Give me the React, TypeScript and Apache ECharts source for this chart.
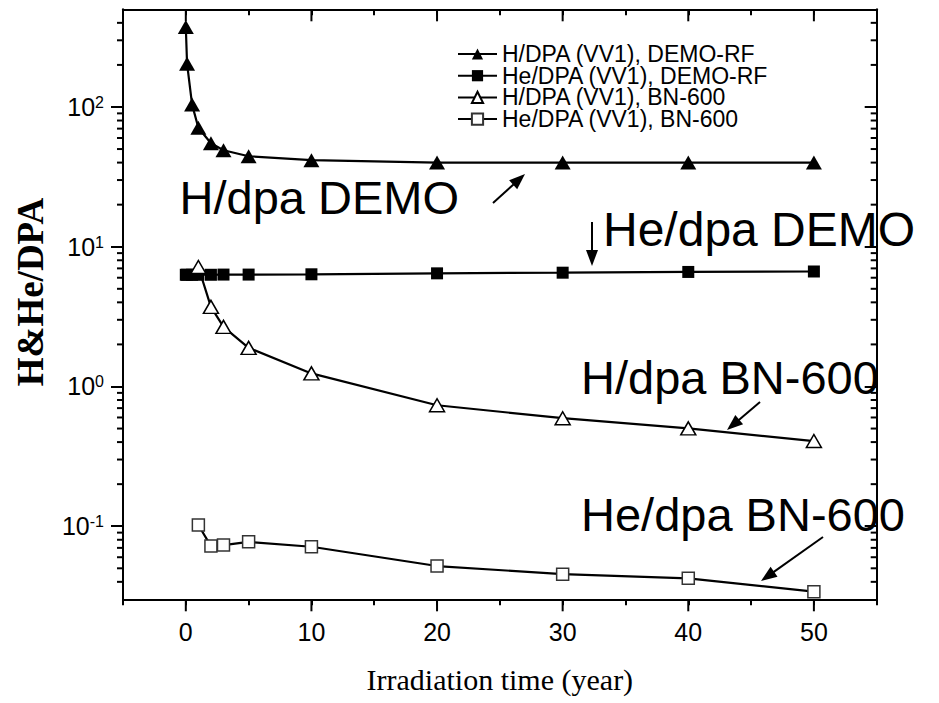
import { useEffect, useRef } from 'react';
import * as echarts from 'echarts';

// ---- data ----
const demoTimes = [0, 0.1, 0.5, 1, 2, 3, 5, 10, 20, 30, 40, 50];
const hDpaDemo = [373, 204, 104, 71, 55, 49, 44.4, 41.6, 40, 40, 40, 40];
const heDpaDemo = [6.3, 6.3, 6.3, 6.3, 6.3, 6.32, 6.32, 6.35, 6.45, 6.52, 6.6, 6.65];
const bnTimes = [1, 2, 3, 5, 10, 20, 30, 40, 50];
const hDpaBn = [7.16, 3.71, 2.67, 1.89, 1.24, 0.734, 0.593, 0.501, 0.407];
const heDpaBn = [0.102, 0.0721, 0.0733, 0.0773, 0.0713, 0.0519, 0.0454, 0.0424, 0.034];

const seriesNames = [
  'H/DPA (VV1), DEMO-RF',
  'He/DPA (VV1), DEMO-RF',
  'H/DPA (VV1), BN-600',
  'He/DPA (VV1), BN-600',
];

const X_MIN = -5;
const X_MAX = 55;
const Y_MIN = 0.03;
const Y_MAX = 500;

const xMajorTicks = [0, 10, 20, 30, 40, 50];
const yMajorTicks = [0.1, 1, 10, 100];
const yMinorTicks = [
  0.04, 0.05, 0.06, 0.07, 0.08, 0.09,
  0.2, 0.3, 0.4, 0.5, 0.6, 0.7, 0.8, 0.9,
  2, 3, 4, 5, 6, 7, 8, 9,
  20, 30, 40, 50, 60, 70, 80, 90,
  200, 300, 400,
];

const annotationTexts = ['H/dpa DEMO', 'He/dpa DEMO', 'H/dpa BN-600', 'He/dpa BN-600'];

const SANS = 'Arial, "Liberation Sans", sans-serif';
const SERIF = '"Times New Roman", "Liberation Serif", serif';

function arrow(x1: number, y1: number, x2: number, y2: number) {
  const dx = x2 - x1;
  const dy = y2 - y1;
  const len = Math.sqrt(dx * dx + dy * dy);
  const ux = dx / len;
  const uy = dy / len;
  const L = 16;
  const W = 6;
  const bx = x2 - ux * L;
  const by = y2 - uy * L;
  const px = -uy;
  const py = ux;
  return {
    type: 'group',
    children: [
      {
        type: 'line',
        shape: { x1, y1, x2: bx + ux * 2, y2: by + uy * 2 },
        style: { stroke: '#000', lineWidth: 2 },
      },
      {
        type: 'polygon',
        shape: {
          points: [
            [x2, y2],
            [bx + px * W, by + py * W],
            [bx - px * W, by - py * W],
          ],
        },
        style: { fill: '#000' },
      },
    ],
  };
}

function seg(x1: number, y1: number, x2: number, y2: number) {
  return { type: 'line', shape: { x1, y1, x2, y2 }, style: { stroke: '#000', lineWidth: 2 } };
}

export default function App() {
  const ref = useRef<HTMLDivElement>(null);

  useEffect(() => {
    if (!ref.current) return;
    const chart = echarts.init(ref.current, null, { renderer: 'svg' });
    const axisLineStyle = { color: '#000', width: 2 };
    // x axes: native ticks every 5 (min is a multiple of the interval), short like minor ticks
    const baseX = {
      type: 'value',
      min: X_MIN,
      max: X_MAX,
      interval: 5,
      splitLine: { show: false },
    };
    // y axes: native ticks at the decades
    const baseY = {
      type: 'log',
      logBase: 10,
      min: Y_MIN,
      max: Y_MAX,
      splitLine: { show: false },
    };

    const annoStyle = { fontSize: 47, fontFamily: SANS, fill: '#000', verticalAlign: 'middle', align: 'left' };

    const option: any = {
      animation: false,
      backgroundColor: '#fff',
      grid: { left: 123, right: 62.3, top: 9.3, bottom: 103.7, containLabel: false },
      legend: {
        orient: 'vertical',
        left: 452,
        top: 37.5,
        itemWidth: 39,
        itemHeight: 14,
        itemGap: -1.3,
        selectedMode: false,
        data: seriesNames,
        textStyle: { fontSize: 23, color: '#000', fontFamily: SANS },
      },
      xAxis: [
        {
          ...baseX,
          position: 'bottom',
          axisLine: { show: true, onZero: false, lineStyle: axisLineStyle },
          axisTick: { show: true, inside: false, length: 6, lineStyle: axisLineStyle },
          axisLabel: {
            margin: 20,
            fontSize: 25,
            color: '#000',
            fontFamily: SANS,
            formatter: (v: number) => (xMajorTicks.indexOf(v) >= 0 ? String(v) : ''),
          },
          name: 'Irradiation time (year)',
          nameLocation: 'middle',
          nameGap: 65,
          nameTextStyle: { fontFamily: SERIF, fontSize: 30, color: '#000' },
        },
        {
          ...baseX,
          position: 'top',
          axisLine: { show: true, onZero: false, lineStyle: axisLineStyle },
          axisTick: { show: true, inside: true, length: 6, lineStyle: axisLineStyle },
          axisLabel: { show: false },
        },
      ],
      yAxis: [
        {
          ...baseY,
          position: 'left',
          axisLine: { show: true, onZero: false, lineStyle: axisLineStyle },
          axisTick: { show: true, inside: false, length: 12, lineStyle: axisLineStyle },
          axisLabel: {
            margin: 19,
            color: '#000',
            showMinLabel: false,
            showMaxLabel: false,
            formatter: (v: number) => {
              const e = Math.round(Math.log10(v));
              if (Math.abs(Math.log10(v) - e) > 1e-6) return '';
              return `{b|10}{s|${e}}`;
            },
            rich: {
              b: { fontSize: 25, fontFamily: SANS, color: '#000' },
              s: { fontSize: 16, fontFamily: SANS, color: '#000', verticalAlign: 'top' },
            },
          },
        },
        {
          ...baseY,
          position: 'right',
          axisLine: { show: true, onZero: false, lineStyle: axisLineStyle },
          axisTick: { show: true, inside: true, length: 12, lineStyle: axisLineStyle },
          axisLabel: { show: false },
        },
      ],
      series: [
        {
          name: seriesNames[0],
          type: 'line',
          data: demoTimes.map((t, i) => [t, hDpaDemo[i]]),
          symbol: 'triangle',
          symbolSize: [16, 14],
          itemStyle: { color: '#000' },
          lineStyle: { color: '#000', width: 2.2 },
        },
        {
          name: seriesNames[1],
          type: 'line',
          data: demoTimes.map((t, i) => [t, heDpaDemo[i]]),
          symbol: 'rect',
          symbolSize: 12,
          itemStyle: { color: '#000' },
          lineStyle: { color: '#000', width: 2.2 },
        },
        {
          name: seriesNames[2],
          type: 'line',
          data: bnTimes.map((t, i) => [t, hDpaBn[i]]),
          symbol: 'triangle',
          symbolSize: [15, 13],
          itemStyle: { color: '#fff', borderColor: '#000', borderWidth: 1.5 },
          lineStyle: { color: '#000', width: 2.2 },
        },
        {
          name: seriesNames[3],
          type: 'line',
          data: bnTimes.map((t, i) => [t, heDpaBn[i]]),
          symbol: 'rect',
          symbolSize: 12,
          itemStyle: { color: '#fff', borderColor: '#333', borderWidth: 1.5 },
          lineStyle: { color: '#000', width: 2.2 },
        },
      ],
    };

    chart.setOption(option);

    // extra tick marks, positioned through the chart's own axis scales:
    // long x ticks at the labelled values, short y ticks between the decades
    const toPx = (x: number, y: number) =>
      chart.convertToPixel({ xAxisIndex: 0, yAxisIndex: 0 } as any, [x, y]) as number[];
    const ticks: any[] = [];
    xMajorTicks.forEach((v) => {
      const b = toPx(v, Y_MIN);
      const t = toPx(v, Y_MAX);
      ticks.push(seg(b[0], b[1], b[0], b[1] + 12));
      ticks.push(seg(t[0], t[1], t[0], t[1] + 12));
    });
    yMinorTicks.forEach((v) => {
      const l = toPx(X_MIN, v);
      const r = toPx(X_MAX, v);
      ticks.push(seg(l[0] - 6, l[1], l[0], l[1]));
      ticks.push(seg(r[0] - 6, r[1], r[0], r[1]));
    });
    // keep a reference to the decade list for clarity (ticks drawn by the axis itself)
    void yMajorTicks;

    chart.setOption({
      graphic: [
        {
          type: 'text',
          x: 30,
          y: 292,
          rotation: Math.PI / 2,
          style: {
            text: 'H&He/DPA',
            fontSize: 37,
            fontWeight: 'bold',
            fontFamily: SERIF,
            fill: '#000',
            align: 'center',
            verticalAlign: 'middle',
          },
        },
        { type: 'text', x: 179.5, y: 197, style: { ...annoStyle, text: annotationTexts[0] } },
        { type: 'text', x: 603, y: 229, style: { ...annoStyle, fontSize: 48, text: annotationTexts[1] } },
        { type: 'text', x: 581, y: 377, style: { ...annoStyle, text: annotationTexts[2] } },
        { type: 'text', x: 581, y: 514, style: { ...annoStyle, text: annotationTexts[3] } },
        arrow(493, 203, 525, 174),
        arrow(592, 222, 592, 266),
        arrow(760, 402, 727, 430),
        arrow(823, 537, 761, 581),
        ...ticks,
      ],
    });

    return () => chart.dispose();
  }, []);

  return (
    <div
      ref={ref}
      style={{ position: 'absolute', left: 0, top: 0, width: 939, height: 703, background: '#fff' }}
    />
  );
}
